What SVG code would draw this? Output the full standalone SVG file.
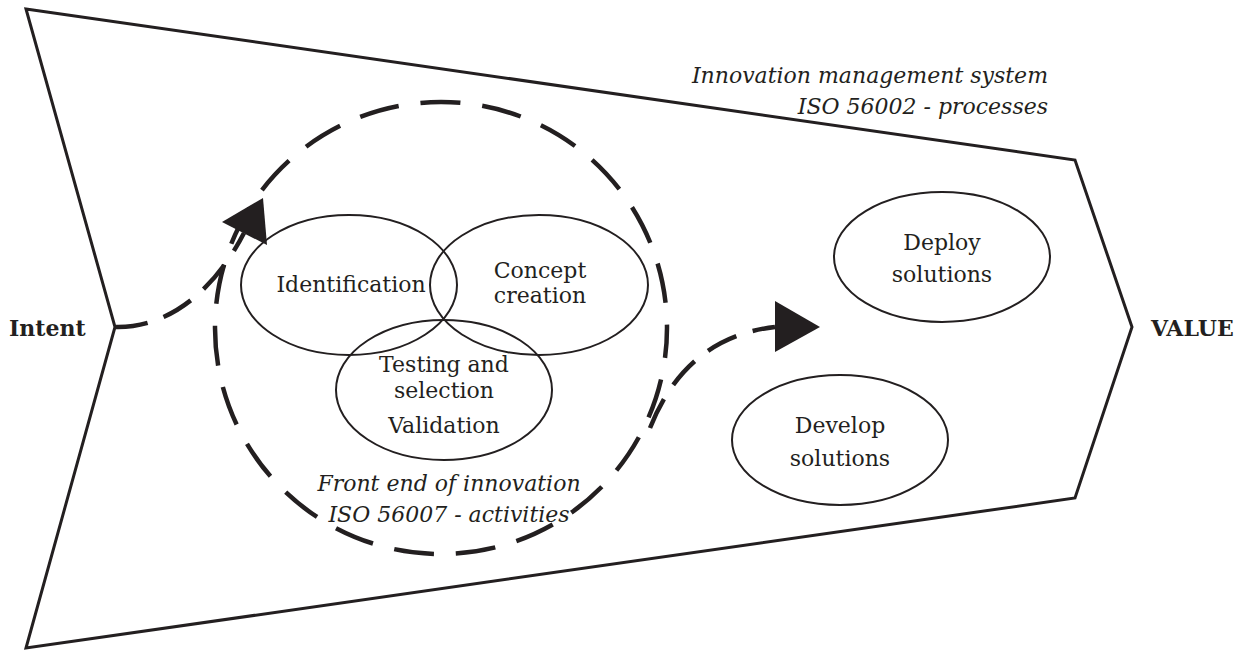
<svg xmlns="http://www.w3.org/2000/svg" width="1242" height="650" viewBox="0 0 1242 650">
<style>
.frame{fill:none;stroke:#231f20;stroke-width:3;stroke-linejoin:miter}
.ell{fill:none;stroke:#231f20;stroke-width:2}
.dash{fill:none;stroke:#231f20;stroke-width:4.5;stroke-dasharray:40 22}
.flow{fill:none;stroke:#231f20;stroke-width:4.5;stroke-dasharray:32 17}
.head{fill:#231f20}
text{font-family:"DejaVu Serif","Liberation Serif",serif;font-size:22px;fill:#231f20}
.c{text-anchor:middle}
.it{font-style:italic}
.b{font-weight:bold}
</style>
<rect width="1242" height="650" fill="#fff"/>
<g id="system">
<polygon class="frame" points="26,9 1075,160 1132,327 1075,498 26,648 115,327"/>
<text class="it" x="1048" y="83" text-anchor="end">Innovation management system</text>
<text class="it" x="1048" y="114" text-anchor="end">ISO 56002 - processes</text>
</g>
<g id="intent"><text class="b" x="9" y="336" font-size="21">Intent</text></g>
<g id="value"><text class="b" x="1151" y="336" font-size="21">VALUE</text></g>
<g id="front-end">
<circle class="dash" cx="441" cy="328" r="226" stroke-dashoffset="10"/>
<text class="it c" x="449" y="491">Front end of innovation</text>
<text class="it c" x="449" y="522">ISO 56007 - activities</text>
</g>
<g id="identification">
<ellipse class="ell" cx="349" cy="285" rx="108" ry="70"/>
<text class="c" x="351" y="292">Identification</text>
</g>
<g id="concept">
<ellipse class="ell" cx="539" cy="285" rx="109" ry="70"/>
<text class="c" x="540" y="278">Concept</text>
<text class="c" x="540" y="303">creation</text>
</g>
<g id="testing">
<ellipse class="ell" cx="444" cy="390" rx="108" ry="70"/>
<text class="c" x="444" y="372">Testing and</text>
<text class="c" x="444" y="398">selection</text>
<text class="c" x="444" y="433">Validation</text>
</g>
<g id="deploy">
<ellipse class="ell" cx="942" cy="257" rx="108" ry="65"/>
<text class="c" x="942" y="250">Deploy</text>
<text class="c" x="942" y="282">solutions</text>
</g>
<g id="develop">
<ellipse class="ell" cx="840" cy="440" rx="108" ry="65"/>
<text class="c" x="840" y="433">Develop</text>
<text class="c" x="840" y="466">solutions</text>
</g>
<g id="connectors">
<path class="flow" d="M116,327 C165,328 212,295 244,233"/>
<polygon class="head" points="263,198 222,222 267,245"/>
<path class="flow" d="M650,428 C672,372 712,334 775,327"/>
<polygon class="head" points="820,327 775,301 775,352"/>
</g>
</svg>
